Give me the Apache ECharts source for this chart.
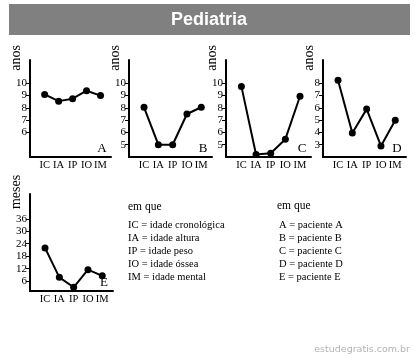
<!DOCTYPE html>
<html>
<head>
<meta charset="utf-8">
<script src="https://cdn.jsdelivr.net/npm/echarts@6/dist/echarts.min.js"></script>
<style>
html,body{margin:0;padding:0;background:#fff;}
#chart{width:415px;height:356px;}
</style>
</head>
<body>
<div id="chart"></div>
<script>
// ---- data ----
const titleText = 'Pediatria';
const categories = ['IC', 'IA', 'IP', 'IO', 'IM'];
const pacienteA = [9.1, 8.55, 8.75, 9.4, 9.0];
const pacienteB = [8.05, 5.0, 5.0, 7.5, 8.05];
const pacienteC = [9.75, 4.2, 4.3, 5.45, 8.95];
const pacienteD = [8.25, 3.95, 5.9, 2.9, 5.0];
const pacienteE = [22, 7.8, 3, 11.5, 8.5];
const ticksA = [6, 7, 8, 9, 10];
const ticksB = [5, 6, 7, 8, 9, 10];
const ticksC = [5, 6, 7, 8, 9, 10];
const ticksD = [3, 4, 5, 6, 7, 8];
const ticksE = [6, 12, 18, 24, 30, 36];
const panelLetters = ['A', 'B', 'C', 'D', 'E'];
const unitNames = ['anos', 'anos', 'anos', 'anos', 'meses'];
const legendLeftTitle = 'em que';
const legendLeft = ['IC = idade cronológica', 'IA = idade altura', 'IP = idade peso', 'IO = idade óssea', 'IM = idade mental'];
const legendRightTitle = 'em que';
const legendRight = ['A = paciente A', 'B = paciente B', 'C = paciente C', 'D = paciente D', 'E = paciente E'];
const watermark = 'estudegratis.com.br';

// ---- layout ----
const SERIF = '"Liberation Serif", "Times New Roman", serif';
const panels = [
  {data: pacienteA, ticks: ticksA, left: 30, top: 60, width: 81, height: 97, ymin: 4, ymax: 11.9},
  {data: pacienteB, ticks: ticksB, left: 129, top: 60, width: 83, height: 97, ymin: 4, ymax: 11.9},
  {data: pacienteC, ticks: ticksC, left: 226, top: 60, width: 85, height: 97, ymin: 4, ymax: 11.9},
  {data: pacienteD, ticks: ticksD, left: 323, top: 60, width: 83, height: 97, ymin: 2, ymax: 9.9},
  {data: pacienteE, ticks: ticksE, left: 30, top: 194, width: 83, height: 97, ymin: 1.2, ymax: 48}
];
const XMIN = -1.05, XMAX = 4.75;

const grid = [], xAxis = [], yAxis = [], series = [], graphic = [];

graphic.push({type: 'rect', shape: {x: 9, y: 4, width: 401, height: 31}, style: {fill: '#808080'}, silent: true});
graphic.push({type: 'text', x: 209, y: 20, style: {text: titleText, fill: '#ffffff', font: 'bold 18px "Liberation Sans", Arial, sans-serif', align: 'center', verticalAlign: 'middle'}});

panels.forEach((p, i) => {
  grid.push({left: p.left, top: p.top, width: p.width, height: p.height});
  xAxis.push({
    type: 'value', gridIndex: i, min: XMIN, max: XMAX,
    axisLine: {show: true, onZero: false, lineStyle: {color: '#000', width: 2}},
    axisTick: {show: false}, splitLine: {show: false},
    axisLabel: {customValues: categories.map((c, k) => k), formatter: v => categories[Math.round(v)],
      color: '#000', fontFamily: SERIF, fontSize: 10.5, margin: 3}
  });
  yAxis.push({
    type: 'value', gridIndex: i, min: p.ymin, max: p.ymax,
    axisLine: {show: true, onZero: false, lineStyle: {color: '#000', width: 2}},
    axisTick: {show: true, customValues: p.ticks, length: 4, lineStyle: {color: '#000', width: 1}},
    splitLine: {show: false},
    axisLabel: {customValues: p.ticks, color: '#000', fontFamily: SERIF, fontSize: 11, margin: 3}
  });
  series.push({
    type: 'line', xAxisIndex: i, yAxisIndex: i,
    data: p.data.map((v, k) => [k, v]),
    symbol: 'circle', symbolSize: 7,
    lineStyle: {color: '#000', width: 2},
    itemStyle: {color: '#000'},
    animation: false
  });
  graphic.push({type: 'text', x: p.left - 14, y: p.top - 2, rotation: Math.PI / 2,
    style: {text: unitNames[i], fill: '#000', font: '14px ' + SERIF, align: 'center', verticalAlign: 'middle'}});
  graphic.push({type: 'text', x: p.left + p.width - 9, y: p.top + p.height - 8,
    style: {text: panelLetters[i], fill: '#000', font: '13px ' + SERIF, align: 'center', verticalAlign: 'middle'}});
});

const LF = '10.5px ' + SERIF;
graphic.push({type: 'text', x: 128, y: 207, style: {text: legendLeftTitle, fill: '#000', font: '11.5px ' + SERIF, align: 'left', verticalAlign: 'middle'}});
legendLeft.forEach((t, k) => graphic.push({type: 'text', x: 128, y: 225 + k * 13, style: {text: t, fill: '#000', font: LF, align: 'left', verticalAlign: 'middle'}}));
graphic.push({type: 'text', x: 277, y: 206, style: {text: legendRightTitle, fill: '#000', font: '11.5px ' + SERIF, align: 'left', verticalAlign: 'middle'}});
legendRight.forEach((t, k) => graphic.push({type: 'text', x: 279, y: 225 + k * 13, style: {text: t, fill: '#000', font: LF, align: 'left', verticalAlign: 'middle'}}));
graphic.push({type: 'text', x: 410, y: 350, style: {text: watermark, fill: '#b4b4b4', font: '9.5px "DejaVu Sans", sans-serif', align: 'right', verticalAlign: 'middle'}});

const chart = echarts.init(document.getElementById('chart'), null, {renderer: 'canvas'});
chart.setOption({animation: false, backgroundColor: '#fff', grid, xAxis, yAxis, series, graphic});
</script>
</body>
</html>
